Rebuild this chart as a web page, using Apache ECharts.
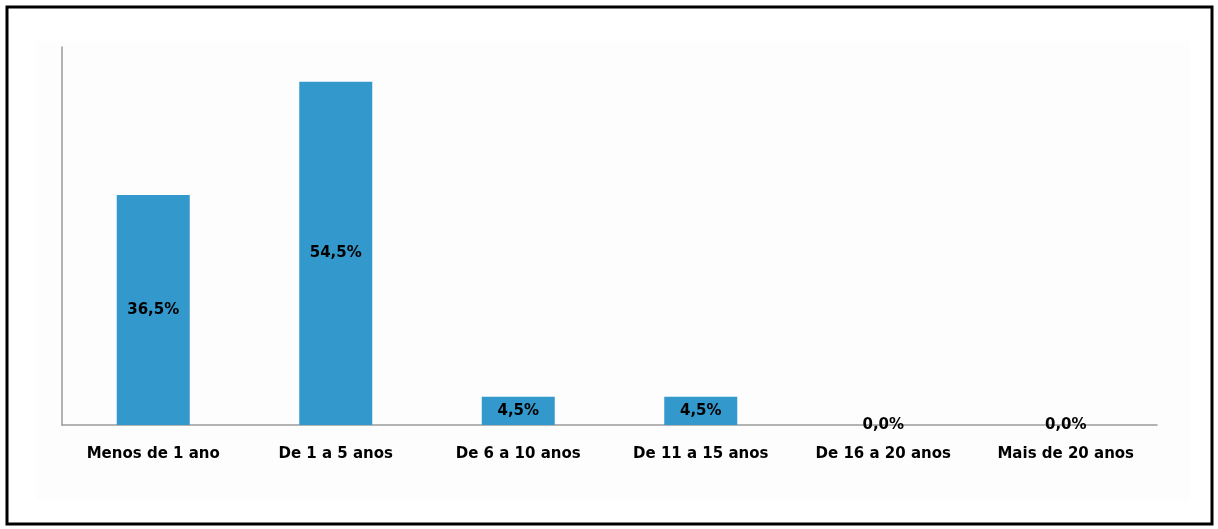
<!DOCTYPE html>
<html>
<head>
    <meta charset="utf-8"/>
    <title>Tempo</title>
    <script src="https://cdn.jsdelivr.net/npm/echarts@6/dist/echarts.min.js"></script>
    <style>
        html, body { margin: 0; padding: 0; background: #fff; }
        #main { width: 1218px; height: 529px; }
    </style>
</head>
<body>
<div id="main"></div>
<script>
    // dados
    var categorias = ['Menos de 1 ano', 'De 1 a 5 anos', 'De 6 a 10 anos', 'De 11 a 15 anos', 'De 16 a 20 anos', 'Mais de 20 anos'];
    var valores = [36.5, 54.5, 4.5, 4.5, 0.0, 0.0];

    var chart = echarts.init(document.getElementById('main'));
    var option = {
        backgroundColor: '#ffffff',
        animation: false,
        graphic: [
            // moldura preta
            {
                type: 'rect', z: -10,
                shape: {x: 7, y: 7, width: 1205, height: 517},
                style: {fill: '#ffffff', stroke: '#000000', lineWidth: 3}
            },
            // área do gráfico levemente cinza
            {
                type: 'rect', z: -9,
                shape: {x: 36, y: 41, width: 1154, height: 459},
                style: {fill: '#fdfdfd'}
            }
        ],
        grid: {left: 62, right: 61, top: 47, bottom: 104},
        xAxis: {
            type: 'category',
            data: categorias,
            axisLine: {lineStyle: {color: '#9a9a9a', width: 1.5}},
            axisTick: {show: false},
            axisLabel: {
                margin: 22,
                color: '#000',
                fontWeight: 'bold',
                fontSize: 15,
                fontFamily: 'DejaVu Sans'
            }
        },
        yAxis: {
            type: 'value',
            min: 0,
            max: 60,
            axisLine: {show: true, lineStyle: {color: '#9a9a9a', width: 1.5}},
            axisTick: {show: false},
            axisLabel: {show: false},
            splitLine: {show: false}
        },
        series: [{
            type: 'bar',
            data: valores,
            barWidth: '40%',
            itemStyle: {color: '#3399cc'},
            label: {
                show: true,
                position: 'inside',
                color: '#000',
                fontWeight: 'bold',
                fontSize: 15,
                fontFamily: 'DejaVu Sans',
                formatter: function (p) {
                    return p.value.toFixed(1).replace('.', ',') + '%';
                }
            }
        }]
    };
    chart.setOption(option);
</script>
</body>
</html>
